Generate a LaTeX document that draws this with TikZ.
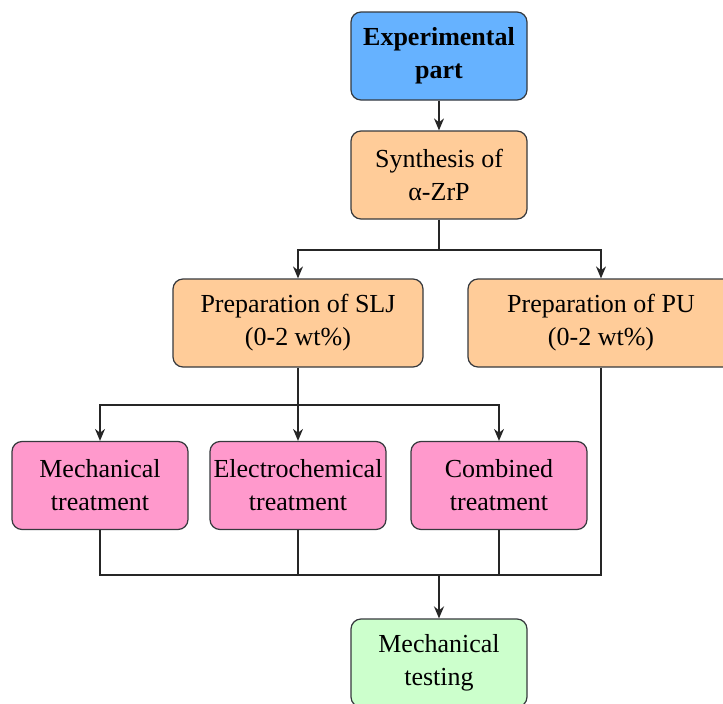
\documentclass[tikz,border=0pt]{standalone}
\usepackage{fontspec}
\setmainfont{Liberation Serif}
\usetikzlibrary{arrows.meta}
\definecolor{cblue}{HTML}{66B2FF}
\definecolor{corange}{HTML}{FFCC99}
\definecolor{cpink}{HTML}{FF99CC}
\definecolor{cgreen}{HTML}{CCFFCC}
\definecolor{boxline}{HTML}{36393D}
\begin{document}
\begin{tikzpicture}[x=1pt,y=-1pt,
  box/.style={draw=boxline, line width=1.2pt, rounded corners=10pt,
    minimum width=176pt, minimum height=88pt, align=center, inner sep=0pt,
    font=\fontsize{26}{33}\selectfont},
  conn/.style={line width=1.3pt, draw=black!85},
  arr/.style={conn, -{Stealth[length=12pt,width=10pt]}}]
\useasboundingbox (0,0) rectangle (723,704);
\clip (0,0) rectangle (723,704);
\node[box, fill=cblue, font=\fontsize{26}{33}\selectfont\bfseries] (exp) at (439,56) {Experimental\\part};
\node[box, fill=corange] (syn) at (439,175) {Synthesis of\\α-ZrP};
\node[box, fill=corange, minimum width=250pt] (slj) at (298,323) {Preparation of SLJ\\(0-2 wt\%)};
\node[box, fill=corange, minimum width=266pt] (pu) at (601,323) {Preparation of PU\\(0-2 wt\%)};
\node[box, fill=cpink] (mech) at (100,485.5) {Mechanical\\treatment};
\node[box, fill=cpink] (elec) at (298,485.5) {Electrochemical\\treatment};
\node[box, fill=cpink] (comb) at (499,485.5) {Combined\\treatment};
\node[box, fill=cgreen] (test) at (439,663) {Mechanical\\testing};
\coordinate (j1) at (439,250);
\coordinate (j2) at (298,405);
\coordinate (j3) at (439,575);
\draw[arr] (exp) -- (syn);
\draw[arr] (syn.south) -- (j1) -| (slj.north);
\draw[arr] (j1) -| (pu.north);
\draw[arr] (slj.south) -- (elec.north);
\draw[arr] (j2) -| (mech.north);
\draw[arr] (j2) -| (comb.north);
\draw[conn] (mech.south) |- (j3);
\draw[conn] (elec.south) |- (j3);
\draw[conn] (comb.south) |- (j3);
\draw[conn] (pu.south) |- (j3);
\draw[arr, line width=2pt] (j3) -- (test.north);
\end{tikzpicture}
\end{document}
